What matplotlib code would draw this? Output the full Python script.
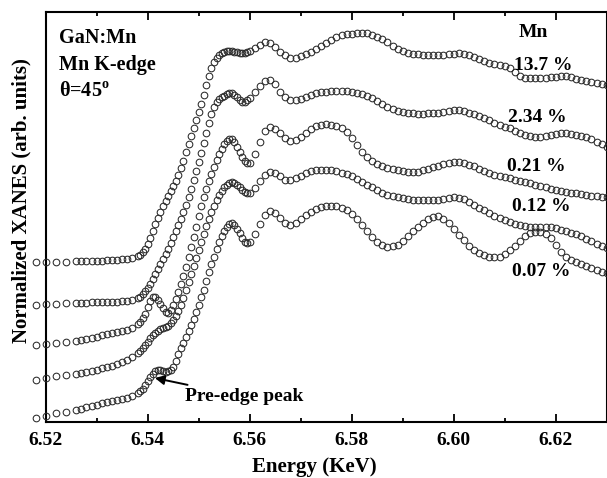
import matplotlib
matplotlib.use("Agg")
import matplotlib.pyplot as plt

plt.rcParams['font.family'] = ['Liberation Serif', 'DejaVu Serif']
plt.rcParams['font.weight'] = 'bold'
plt.rcParams['mathtext.fontset'] = 'custom'
plt.rcParams['mathtext.rm'] = 'Liberation Serif:bold'
plt.rcParams['mathtext.bf'] = 'Liberation Serif:bold'

# ---------------- data ----------------
energy = [6.518, 6.520, 6.522, 6.524,
          6.526, 6.527, 6.528, 6.529, 6.530, 6.531, 6.532, 6.533, 6.534, 6.535, 6.536, 6.537,
          6.5380, 6.5385, 6.5390, 6.5395, 6.5400, 6.5405, 6.5410, 6.5415, 6.5420, 6.5425,
          6.5430, 6.5435, 6.5440, 6.5445, 6.5450, 6.5455, 6.5460, 6.5465, 6.5470, 6.5475,
          6.5480, 6.5485, 6.5490, 6.5495, 6.5500, 6.5505, 6.5510, 6.5515, 6.5520, 6.5525,
          6.5530, 6.5535, 6.5540, 6.5545, 6.5550, 6.5555, 6.5560, 6.5565, 6.5570, 6.5575,
          6.5580, 6.5585, 6.5590, 6.5595,
          6.560, 6.561, 6.562, 6.563, 6.564, 6.565, 6.566, 6.567, 6.568, 6.569,
          6.570, 6.571, 6.572, 6.573, 6.574, 6.575, 6.576, 6.577, 6.578, 6.579,
          6.580, 6.581, 6.582, 6.583, 6.584, 6.585, 6.586, 6.587, 6.588, 6.589,
          6.590, 6.591, 6.592, 6.593, 6.594, 6.595, 6.596, 6.597, 6.598, 6.599,
          6.600, 6.601, 6.602, 6.603, 6.604, 6.605, 6.606, 6.607, 6.608, 6.609,
          6.610, 6.611, 6.612, 6.613, 6.614, 6.615, 6.616, 6.617, 6.618, 6.619,
          6.620, 6.621, 6.622, 6.623, 6.624, 6.625, 6.626, 6.627, 6.628, 6.629,
          6.630]

xanes_0p07 = [0.037, 0.063, 0.087, 0.103,
              0.12, 0.135, 0.15, 0.165, 0.175, 0.19, 0.20, 0.21, 0.22, 0.23, 0.245, 0.26,
              0.29, 0.31, 0.335, 0.37, 0.41, 0.45, 0.485, 0.51, 0.52, 0.52,
              0.51, 0.505, 0.51, 0.525, 0.555, 0.61, 0.68, 0.74, 0.79, 0.85,
              0.91, 0.97, 1.03, 1.10, 1.17, 1.25, 1.32, 1.41, 1.50, 1.58,
              1.65, 1.73, 1.80, 1.86, 1.91, 1.95, 1.98, 1.99, 1.97, 1.93,
              1.89, 1.84, 1.80, 1.79,
              1.80, 1.88, 1.98, 2.07, 2.11, 2.09, 2.04, 1.99, 1.97, 1.99,
              2.03, 2.07, 2.10, 2.13, 2.15, 2.16, 2.165, 2.16, 2.145, 2.12,
              2.08, 2.03, 1.97, 1.91, 1.85, 1.80, 1.77, 1.75, 1.76, 1.775,
              1.815, 1.86, 1.91, 1.95, 1.995, 2.03, 2.05, 2.055, 2.035, 1.99,
              1.93, 1.875, 1.82, 1.76, 1.72, 1.69, 1.67, 1.655, 1.65, 1.655,
              1.68, 1.72, 1.76, 1.81, 1.86, 1.89, 1.905, 1.90, 1.88, 1.84,
              1.77, 1.70, 1.65, 1.62, 1.60, 1.58, 1.56, 1.54, 1.52, 1.505,
              1.49]

xanes_0p12 = [0.42, 0.437, 0.46, 0.47,
              0.485, 0.495, 0.505, 0.515, 0.525, 0.54, 0.55, 0.565, 0.58, 0.60, 0.62, 0.65,
              0.69, 0.71, 0.74, 0.77, 0.805, 0.84, 0.87, 0.895, 0.915, 0.93,
              0.94, 0.95, 0.965, 0.99, 1.02, 1.06, 1.11, 1.17, 1.24, 1.32,
              1.40, 1.48, 1.56, 1.64, 1.72, 1.80, 1.88, 1.96, 2.03, 2.10,
              2.16, 2.22, 2.27, 2.31, 2.345, 2.37, 2.39, 2.40, 2.395, 2.375,
              2.35, 2.32, 2.30, 2.29,
              2.295, 2.34, 2.41, 2.47, 2.50, 2.49, 2.46, 2.425, 2.42, 2.44,
              2.465, 2.49, 2.51, 2.52, 2.525, 2.525, 2.52, 2.51, 2.495, 2.48,
              2.46, 2.43, 2.40, 2.37, 2.345, 2.32, 2.295, 2.275, 2.26, 2.25,
              2.24, 2.23, 2.225, 2.22, 2.22, 2.22, 2.22, 2.225, 2.235, 2.245,
              2.25, 2.245, 2.23, 2.20, 2.17, 2.14, 2.115, 2.09, 2.065, 2.04,
              2.02, 2.005, 1.985, 1.97, 1.96, 1.955, 1.95, 1.95, 1.95, 1.95,
              1.94, 1.925, 1.91, 1.895, 1.88, 1.86, 1.835, 1.81, 1.785, 1.76,
              1.74]

xanes_0p21 = [0.77, 0.78, 0.79, 0.80,
              0.81, 0.82, 0.83, 0.84, 0.855, 0.87, 0.88, 0.89, 0.90, 0.91, 0.925, 0.945,
              0.98, 1.005, 1.04, 1.085, 1.15, 1.215, 1.25, 1.25, 1.225, 1.185,
              1.14, 1.105, 1.095, 1.12, 1.17, 1.23, 1.30, 1.38, 1.46, 1.55,
              1.65, 1.75, 1.85, 1.95, 2.06, 2.16, 2.25, 2.33, 2.41, 2.48,
              2.55, 2.62, 2.68, 2.735, 2.78, 2.815, 2.835, 2.83, 2.80, 2.75,
              2.70, 2.65, 2.61, 2.59,
              2.595, 2.68, 2.80, 2.91, 2.95, 2.935, 2.89, 2.84, 2.81, 2.82,
              2.85, 2.89, 2.93, 2.96, 2.975, 2.98, 2.975, 2.96, 2.94, 2.90,
              2.84, 2.77, 2.705, 2.65, 2.61, 2.58, 2.56, 2.545, 2.535, 2.525,
              2.515, 2.505, 2.50, 2.505, 2.52, 2.535, 2.55, 2.565, 2.58, 2.59,
              2.60, 2.605, 2.595, 2.575, 2.555, 2.535, 2.515, 2.495, 2.475, 2.46,
              2.45, 2.44, 2.425, 2.41, 2.40, 2.39, 2.375, 2.36, 2.345, 2.33,
              2.32, 2.31, 2.30, 2.295, 2.29, 2.285, 2.275, 2.265, 2.26, 2.255,
              2.25]

xanes_2p34 = [1.17, 1.18, 1.185, 1.19,
              1.195, 1.195, 1.195, 1.20, 1.20, 1.20, 1.20, 1.205, 1.205, 1.21, 1.215, 1.225,
              1.24, 1.255, 1.28, 1.31, 1.345, 1.385, 1.43, 1.48, 1.53, 1.58,
              1.63, 1.68, 1.735, 1.79, 1.85, 1.91, 1.97, 2.035, 2.10, 2.17,
              2.25, 2.33, 2.42, 2.51, 2.60, 2.69, 2.79, 2.89, 2.99, 3.08,
              3.15, 3.20, 3.23, 3.25, 3.265, 3.28, 3.29, 3.29, 3.275, 3.25,
              3.225, 3.205, 3.205, 3.22,
              3.245, 3.30, 3.36, 3.41, 3.42, 3.38, 3.305, 3.25, 3.225, 3.22,
              3.235, 3.255, 3.275, 3.29, 3.30, 3.305, 3.31, 3.315, 3.315, 3.31,
              3.30, 3.29, 3.28, 3.265, 3.24, 3.21, 3.18, 3.15, 3.13, 3.115,
              3.105, 3.095, 3.09, 3.085, 3.085, 3.09, 3.09, 3.095, 3.10, 3.11,
              3.12, 3.12, 3.11, 3.095, 3.08, 3.065, 3.045, 3.02, 2.995, 2.975,
              2.955, 2.94, 2.915, 2.895, 2.875, 2.86, 2.85, 2.85, 2.86, 2.875,
              2.885, 2.89, 2.89, 2.885, 2.875, 2.86, 2.85, 2.83, 2.805, 2.78,
              2.75]

xanes_13p7 = [1.60, 1.60, 1.60, 1.605,
              1.61, 1.61, 1.61, 1.61, 1.615, 1.615, 1.62, 1.62, 1.625, 1.63, 1.635, 1.645,
              1.66, 1.675, 1.70, 1.73, 1.78, 1.84, 1.91, 1.98, 2.045, 2.105,
              2.16, 2.21, 2.26, 2.31, 2.36, 2.415, 2.47, 2.54, 2.61, 2.70,
              2.78, 2.86, 2.94, 3.02, 3.10, 3.18, 3.27, 3.37, 3.46, 3.54,
              3.60, 3.64, 3.67, 3.69, 3.705, 3.715, 3.715, 3.71, 3.705, 3.70,
              3.695, 3.695, 3.695, 3.70,
              3.71, 3.74, 3.775, 3.80, 3.79, 3.75, 3.705, 3.67, 3.645, 3.645,
              3.665, 3.685, 3.705, 3.73, 3.76, 3.79, 3.82, 3.85, 3.87, 3.88,
              3.885, 3.89, 3.895, 3.89, 3.875, 3.855, 3.83, 3.80, 3.765, 3.735,
              3.71, 3.695, 3.685, 3.68, 3.675, 3.67, 3.67, 3.67, 3.675, 3.68,
              3.685, 3.69, 3.685, 3.67, 3.65, 3.63, 3.61, 3.595, 3.58, 3.57,
              3.56, 3.54, 3.50, 3.465, 3.445, 3.44, 3.44, 3.44, 3.445, 3.45,
              3.455, 3.46, 3.46, 3.45, 3.435, 3.425, 3.415, 3.405, 3.395, 3.385,
              3.37]

series = [xanes_0p07, xanes_0p12, xanes_0p21, xanes_2p34, xanes_13p7]
series_labels = ['0.07 %', '0.12 %', '0.21 %', '2.34 %', '13.7 %']
tick_values = [6.52, 6.54, 6.56, 6.58, 6.60, 6.62]
tick_labels = ['6.52', '6.54', '6.56', '6.58', '6.60', '6.62']

# ---------------- figure ----------------
W, H = 607, 478
fig = plt.figure(figsize=(W / 100, H / 100), dpi=100)
ax = fig.add_axes([45.7 / W, (H - 422) / H, (606.7 - 45.7) / W, (422 - 12) / H])

for ys in series:
    ax.plot(energy, ys, linestyle='none', marker='o', ms=4.8, mfc='none',
            mec='#2a2a2a', mew=0.75, clip_on=False, zorder=3)

ax.set_xlim(6.52, 6.63)
ax.set_ylim(0, 4.10)
ax.set_yticks([])
ax.set_xticks(tick_values)
ax.set_xticklabels(tick_labels)
ax.set_xticks([6.53, 6.55, 6.57, 6.59, 6.61], minor=True)
ax.tick_params(which='both', direction='in', top=True, bottom=True,
               left=False, right=False, width=1.3, color='black')
ax.tick_params(which='major', length=6, labelsize=14, pad=7)
ax.tick_params(which='minor', length=3.2)
for lab in ax.get_xticklabels():
    lab.set_fontweight('bold')
for sp in ax.spines.values():
    sp.set_linewidth(1.5)

ax.set_xlabel('Energy (KeV)', fontsize=15, fontweight='bold')
ax.xaxis.set_label_coords(0.478, -0.085)
ax.set_ylabel('Normalized XANES (arb. units)', fontsize=15, fontweight='bold')
ax.yaxis.set_label_coords(-0.026, 0.54)

# annotations top-left
tl = dict(transform=ax.transAxes, fontsize=14.5, fontweight='bold',
          ha='left', va='center')
ax.text(0.0237, 0.937, 'GaN:Mn', **tl)
ax.text(0.0237, 0.871, 'Mn K-edge', **tl)
ax.text(0.0237, 0.807, 'θ=45$^{\\mathregular{o}}$', **tl)

# concentration labels
rl = dict(transform=ax.transAxes, fontsize=14, fontweight='bold',
          ha='center', va='center', zorder=5)
ax.text(0.8686, 0.9488, 'Mn', **rl)
label_pos = [(0.883, 0.366), (0.883, 0.5244), (0.874, 0.622),
             (0.8757, 0.7415), (0.8864, 0.8707)]
for (lx, ly), txt in zip(label_pos, series_labels):
    ax.text(lx, ly, txt, **rl)

ax.annotate('Pre-edge peak', xy=(6.5414, 0.44), xytext=(6.5473, 0.253),
            fontsize=14, fontweight='bold', ha='left', va='center',
            arrowprops=dict(arrowstyle='-|>', color='black', lw=1.4,
                            mutation_scale=14, shrinkA=2, shrinkB=0))

fig.savefig('out.png', dpi=100)
